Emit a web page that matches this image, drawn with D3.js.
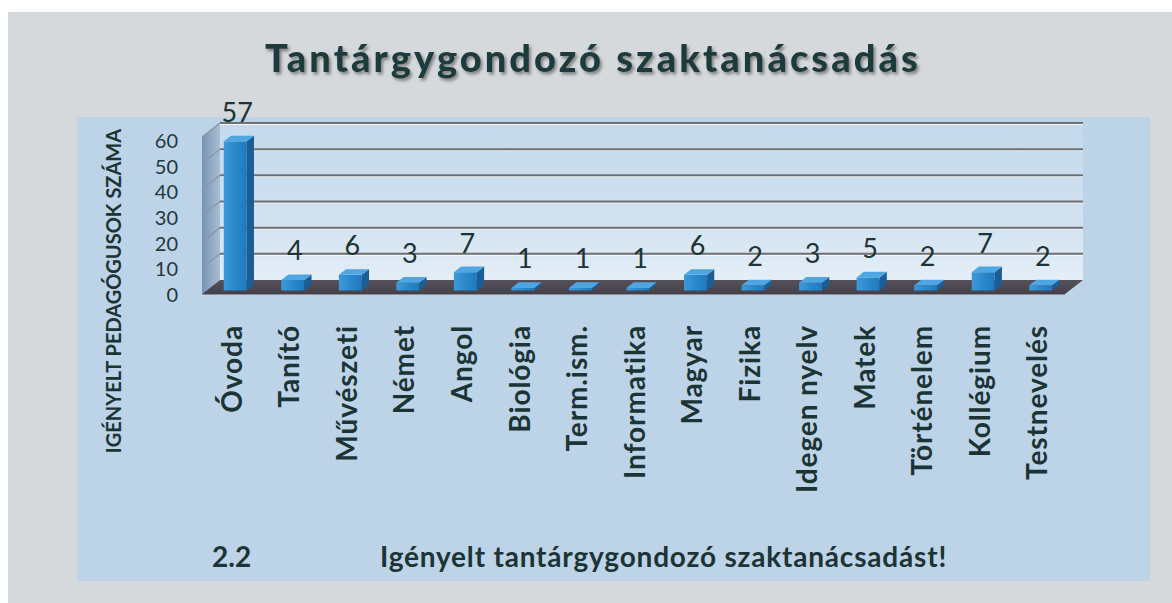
<!DOCTYPE html>
<html><head><meta charset="utf-8">
<script src="https://cdn.jsdelivr.net/npm/d3@7"></script>
<style>body{margin:0;background:#fff;} svg{display:block;}</style>
</head><body><svg id="c" width="1172" height="603"></svg>
<script>
const categories = ["Óvoda","Tanító","Művészeti","Német","Angol","Biológia","Term.ism.","Informatika","Magyar","Fizika","Idegen nyelv","Matek","Történelem","Kollégium","Testnevelés"];
const values = [57,4,6,3,7,1,1,1,6,2,3,5,2,7,2];
const yTicks = [0,10,20,30,40,50,60];
const titleText = "Tantárgygondozó szaktanácsadás";
const yAxisTitle = "IGÉNYELT PEDAGÓGUSOK SZÁMA";
const footNumber = "2.2";
const footText = "Igényelt tantárgygondozó szaktanácsadást!";

const svg = d3.select("#c");
const W = 1172, H = 603;
const DX = 18, DY = -14;           // depth offset (front -> back)
const F0 = 0.25, F1 = 0.65;        // bar depth position
const TXT = "#1c3434";
const FONT = "Lato, 'Open Sans', sans-serif";

const defs = svg.append("defs");
const sh = defs.append("filter").attr("id","tsh").attr("x","-5%").attr("y","-30%").attr("width","110%").attr("height","160%");
sh.append("feDropShadow").attr("dx",2).attr("dy",2.5).attr("stdDeviation",1.6).attr("flood-color","#6b6b6b").attr("flood-opacity",0.8);

function lg(id, x1,y1,x2,y2, stops){
  const g = defs.append("linearGradient").attr("id",id).attr("x1",x1).attr("y1",y1).attr("x2",x2).attr("y2",y2);
  stops.forEach(s=>g.append("stop").attr("offset",s[0]).attr("stop-color",s[1]));
}
lg("backG",0,0,0,1,[[0,"#c4d9ec"],[0.6,"#d0e1f0"],[1,"#e4eef7"]]);
lg("leftG",0,0,1,0,[[0,"#7894b2"],[1,"#a9bed3"]]);
lg("frontG",0,0,1,0,[[0,"#3d9ad9"],[0.5,"#2b88cc"],[1,"#2179bd"]]);
lg("floorG",0,0,0,1,[[0,"#55505a"],[1,"#45414b"]]);

// frame and panel
svg.append("rect").attr("x",8).attr("y",12).attr("width",W-8).attr("height",H-12).attr("fill","#d6d9dc");
svg.append("rect").attr("x",77).attr("y",117).attr("width",1073).attr("height",464).attr("fill","#bcd3e8");

// scales
const x = d3.scaleBand().domain(categories).range([202,1065]).paddingInner(0.6).paddingOuter(0.3);
const yBack = d3.scaleLinear().domain([0,60]).range([280,123]);
const yFront = v => yBack(v) - DY;
const xL = x.range()[0], xR = x.range()[1];

// back wall
svg.append("rect").attr("x",xL+DX).attr("y",yBack(60)).attr("width",xR-xL).attr("height",yBack(0)-yBack(60)).attr("fill","url(#backG)");
// left wall
svg.append("polygon").attr("points",[[xL,yFront(0)],[xL+DX,yBack(0)],[xL+DX,yBack(60)],[xL,yFront(60)]].map(p=>p.join(",")).join(" "))
  .attr("fill","url(#leftG)");

// gridlines
const grid = svg.append("g");
yTicks.filter(t=>t>0).forEach(t=>{
  grid.append("line").attr("x1",xL+DX).attr("x2",xR+DX).attr("y1",yBack(t)+1.5).attr("y2",yBack(t)+1.5).attr("stroke","#f4f8fb").attr("stroke-width",1);
  grid.append("line").attr("x1",xL+DX).attr("x2",xR+DX).attr("y1",yBack(t)).attr("y2",yBack(t)).attr("stroke","#6f6f72").attr("stroke-width",2);
  grid.append("line").attr("x1",xL).attr("x2",xL+DX).attr("y1",yFront(t)).attr("y2",yBack(t)).attr("stroke","#8496aa").attr("stroke-width",1.2);
});

// floor
svg.append("polygon").attr("points",[[xL,yFront(0)],[xR,yFront(0)],[xR+DX,yBack(0)],[xL+DX,yBack(0)]].map(p=>p.join(",")).join(" "))
  .attr("fill","url(#floorG)");
svg.append("line").attr("x1",xL).attr("x2",xR).attr("y1",yFront(0)+0.5).attr("y2",yFront(0)+0.5).attr("stroke","#8f8d96").attr("stroke-width",1);

// bars
const bw = x.bandwidth();
const ox = F0*DX, oy = F0*DY, ddx = (F1-F0)*DX, ddy = (F1-F0)*DY;
const bars = svg.append("g").selectAll("g").data(categories.map((c,i)=>({c, v:values[i]}))).join("g");
bars.each(function(d){
  const g = d3.select(this);
  const x0 = x(d.c)+ox, yb = yFront(0)+oy, yt = yFront(d.v)+oy;
  const pts = a => a.map(p=>p.join(",")).join(" ");
  g.append("rect").attr("x",x0).attr("y",yt).attr("width",bw).attr("height",yb-yt).attr("fill","url(#frontG)");
  g.append("polygon").attr("points",pts([[x0+bw,yt],[x0+bw+ddx,yt+ddy],[x0+bw+ddx,yb+ddy],[x0+bw,yb]])).attr("fill","#1b5e96");
  g.append("polygon").attr("points",pts([[x0,yt],[x0+bw,yt],[x0+bw+ddx,yt+ddy],[x0+ddx,yt+ddy]])).attr("fill","#4fa6e0");
  g.append("text").attr("x",x0+bw/2+2).attr("y",yt+ddy-14).attr("text-anchor","middle")
    .attr("font-family",FONT).attr("font-size",27).attr("fill",TXT).text(d.v);
});

// y axis (front plane)
const yAxisScale = d3.scaleLinear().domain([0,60]).range([yFront(0)+1,yFront(60)+4]);
const ax = svg.append("g").attr("transform","translate(178,0)")
  .call(d3.axisLeft(yAxisScale).tickValues(yTicks).tickSize(0).tickPadding(0));
ax.select(".domain").remove();
ax.selectAll("text").attr("font-family",FONT).attr("font-size",20).attr("fill","#24383c");

// category labels
svg.append("g").selectAll("text").data(categories).join("text")
  .attr("transform",d=>`translate(${x(d)+bw/2+1},325) rotate(-90)`)
  .attr("text-anchor","end").attr("dy","0.36em")
  .attr("font-family",FONT).attr("font-weight",700).attr("font-size",28).attr("letter-spacing",0.9).attr("fill",TXT)
  .text(d=>d);

// y title
svg.append("text").attr("transform","translate(114,291) rotate(-90)")
  .attr("text-anchor","middle").attr("dy","0.36em")
  .attr("font-family",FONT).attr("font-weight",700).attr("font-size",20).attr("fill",TXT)
  .text(yAxisTitle);

// title
const t = svg.append("text").attr("x",265).attr("y",72)
  .attr("font-family",FONT).attr("font-weight",900).attr("font-size",38).attr("fill","#1d3a3d")
  .attr("filter","url(#tsh)").text(titleText);
const tl = t.node().getComputedTextLength();
t.attr("letter-spacing", ((656-tl)/titleText.length).toFixed(2));

// footer
svg.append("text").attr("x",212).attr("y",567).attr("font-family",FONT).attr("font-weight",700).attr("font-size",28).attr("fill",TXT).text(footNumber);
const ft = svg.append("text").attr("x",380).attr("y",567).attr("font-family",FONT).attr("font-weight",700).attr("font-size",28).attr("fill",TXT).text(footText);
const fl = ft.node().getComputedTextLength();
ft.attr("letter-spacing", ((567-fl)/footText.length).toFixed(2));
</script></body></html>
